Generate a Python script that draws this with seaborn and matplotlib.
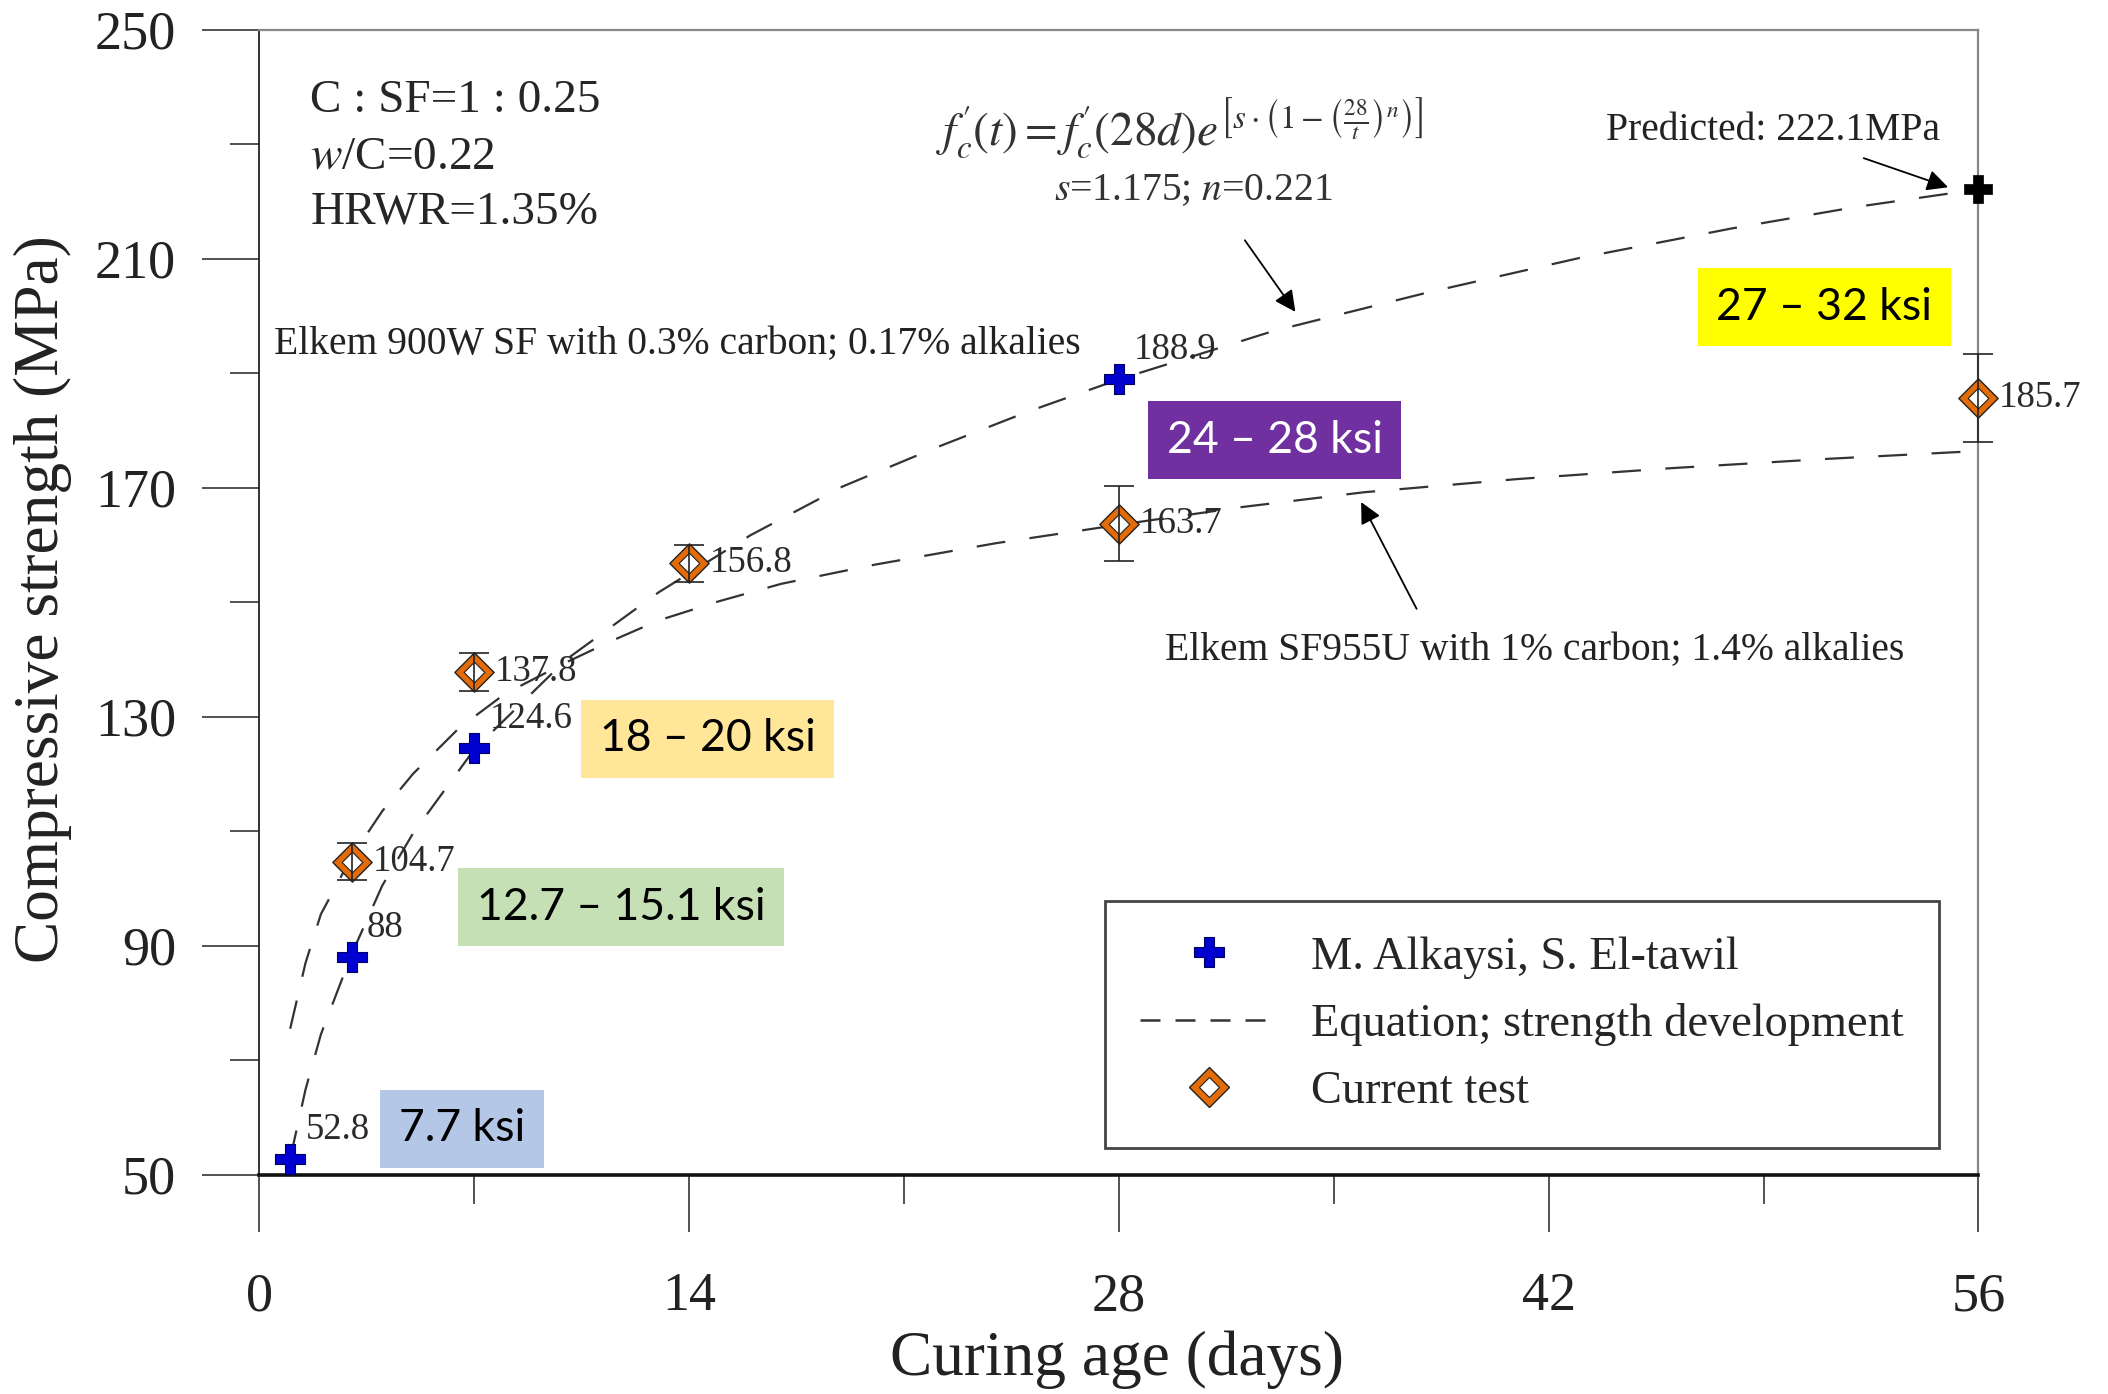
import numpy as np
import pandas as pd
import matplotlib
matplotlib.use("Agg")
import matplotlib.pyplot as plt
import seaborn as sns
from matplotlib.lines import Line2D

# measured strengths
alkaysi_days = [1, 3, 7, 28]
alkaysi_mpa = [52.8, 88, 124.6, 188.9]
predicted_days = [56]
predicted_mpa = [222.1]
test_days = [3, 7, 14, 28, 56]
test_mpa = [104.7, 137.8, 156.8, 163.7, 185.7]
test_err = [3.3, 3.3, 3.2, 6.5, 7.7]

# dashed strength-development curves
alkaysi_curve_days = [1, 1.5, 2, 3, 4, 5, 7, 10, 13, 16, 19, 22, 25, 28, 33, 38, 43, 48, 52, 56]
alkaysi_curve_mpa = [52.8, 64.9, 74.5, 88.5, 100.5, 109.6, 124.3, 140.0, 151.7, 161.7, 170.2,
                     176.9, 183.2, 188.9, 197.3, 204.0, 210.1, 215.3, 219.0, 222.1]
test_curve_days = [1, 1.5, 2, 3, 4, 5, 6.5, 8, 10, 11.5, 13, 15, 17, 20, 24, 28, 32, 36, 41, 46, 51, 56]
test_curve_mpa = [75.5, 87.0, 95.5, 105.5, 113.5, 120.0, 128.0, 134.0, 139.5, 143.3, 146.8, 150.2,
                  153.2, 156.5, 160.3, 163.5, 166.6, 169.2, 171.5, 173.4, 175.0, 176.4]

ksi_labels = ["7.7 ksi", "12.7 \u2013 15.1 ksi", "18 \u2013 20 ksi", "24 \u2013 28 ksi", "27 \u2013 32 ksi"]
ksi_colors = ["#B4C7E7", "#C5E0B4", "#FFE699", "#7030A0", "#FFFF00"]
ksi_text_colors = ["black", "black", "black", "white", "black"]

legend_labels = ["M. Alkaysi, S. El-tawil", "Equation; strength development", "Current test"]

BLUE = "#0000D0"
ORANGE = "#E36C09"
DASH = (0, (13, 11))

sns.set_style("ticks")
plt.rcParams["font.family"] = ["Liberation Serif", "DejaVu Serif"]
plt.rcParams["mathtext.fontset"] = "stix"

fig = plt.figure(figsize=(21.08, 13.94), dpi=100)
ax = fig.add_axes([0.1231, 0.1573, 0.8154, 0.8215])

# curves
sns.lineplot(x=alkaysi_curve_days, y=alkaysi_curve_mpa, ax=ax, color="#333333",
             lw=1.6, linestyle=DASH, zorder=2)
sns.lineplot(x=test_curve_days, y=test_curve_mpa, ax=ax, color="#333333",
             lw=1.6, linestyle=DASH, zorder=2)

# current test: orange diamond with white centre, error bars on top
sns.scatterplot(x=test_days, y=test_mpa, ax=ax, marker="D", s=20 ** 2, color=ORANGE,
                edgecolor="#222222", linewidth=1.0, zorder=4, clip_on=False)
sns.scatterplot(x=test_days, y=test_mpa, ax=ax, marker="D", s=10.5 ** 2, color="white",
                edgecolor="#222222", linewidth=0.8, zorder=5, clip_on=False)
ax.errorbar(test_days, test_mpa, yerr=test_err, fmt="none", ecolor="#222222",
            elinewidth=1.2, capsize=11, capthick=1.2, zorder=6, clip_on=False)

sns.scatterplot(x=alkaysi_days, y=alkaysi_mpa, ax=ax, marker="P", s=22 ** 2, color=BLUE,
                edgecolor="#000060", linewidth=0.8, zorder=5, clip_on=False)
sns.scatterplot(x=predicted_days, y=predicted_mpa, ax=ax, marker="P", s=20 ** 2, color="black",
                edgecolor="black", linewidth=0.5, zorder=5, clip_on=False)

# value labels
for d, v in zip(alkaysi_days, alkaysi_mpa):
    ax.annotate(f"{v:g}", (d, v), xytext=(11, 21), textcoords="offset points",
                ha="left", va="center", fontsize=26.5, color="#2a2a2a", zorder=7)
for d, v in zip(test_days, test_mpa):
    ax.annotate(f"{v:g}", (d, v), xytext=(15, 0), textcoords="offset points",
                ha="left", va="center", fontsize=26.5, color="#2a2a2a", zorder=7,
                annotation_clip=False)

# mix information
ax.text(1.66, 237.6, "C : SF=1 : 0.25", fontsize=34, va="center", ha="left")
ax.text(1.66, 227.7, r"$w$/C=0.22", fontsize=34, va="center", ha="left")
ax.text(1.66, 218.1, "HRWR=1.35%", fontsize=34, va="center", ha="left")

ax.text(22.05, 229.7,
        r"$f^{\prime}_{c}(t) = f^{\prime}_{c}(28d)e^{\left[s\cdot\left(1-\left(\frac{28}{t}\right)^{n}\right)\right]}$",
        fontsize=34, ha="left", va="baseline", color="#333333")
ax.text(30.43, 221.9, r"$s$=1.175; $n$=0.221", fontsize=28.5, ha="center", va="center",
        color="#333333")
ax.text(49.3, 232.4, "Predicted: 222.1MPa", fontsize=28.5, ha="center", va="center",
        color="#222222")
ax.text(0.48, 194.9, "Elkem 900W SF with 0.3% carbon; 0.17% alkalies", fontsize=28.5,
        ha="left", va="center", color="#222222")
ax.text(41.54, 141.6, "Elkem SF955U with 1% carbon; 1.4% alkalies", fontsize=28.5,
        ha="center", va="center", color="#222222")

arrow = dict(arrowstyle="-|>", color="black", lw=1.3, mutation_scale=32)
ax.annotate("", xy=(33.8, 200.3), xytext=(32.05, 213.6), arrowprops=arrow)
ax.annotate("", xy=(55.1, 222.3), xytext=(52.18, 227.7), arrowprops=arrow, annotation_clip=False)
ax.annotate("", xy=(35.85, 167.9), xytext=(37.74, 148.4), arrowprops=arrow)

# ksi range boxes
ksi_pos = [(6.6, 58.0), (11.78, 96.7), (14.6, 126.1), (33.07, 178.3), (50.98, 201.5)]
for (x, y), lab, fc, tc in zip(ksi_pos, ksi_labels, ksi_colors, ksi_text_colors):
    ax.text(x, y, lab, fontsize=32, family="Lato", color=tc, ha="center", va="center",
            zorder=8, bbox=dict(boxstyle="square,pad=0.42", fc=fc, ec="none"))

# legend
h_blue = Line2D([], [], ls="none", marker="P", ms=22, mfc=BLUE, mec="#000060", mew=0.8)
h_line = Line2D([], [], color="#333333", lw=1.8, ls=(0, (8, 6)))
h_test = (Line2D([], [], ls="none", marker="D", ms=20, mfc=ORANGE, mec="#222222", mew=1.0),
          Line2D([], [], ls="none", marker="D", ms=10.5, mfc="white", mec="#222222", mew=0.8))
leg = ax.legend([h_blue, h_line, h_test], legend_labels, loc="lower right",
                bbox_to_anchor=(0.977, 0.0233), borderaxespad=0, fontsize=33.4,
                frameon=True, fancybox=False, edgecolor="#444444", framealpha=1,
                borderpad=0.75, labelspacing=0.53, handlelength=3.0, handletextpad=0.7)
leg.get_frame().set_linewidth(2.0)

# axes
ax.set_xlim(0, 56)
ax.set_ylim(50, 250)
ax.set_xticks([0, 14, 28, 42, 56])
ax.set_xticks([7, 21, 35, 49], minor=True)
ax.set_yticks([50, 90, 130, 170, 210, 250])
ax.set_yticks([70, 110, 150, 190, 230], minor=True)
ax.tick_params(which="major", direction="out", length=41, width=1.3, color="#444444",
               labelsize=39, labelcolor="#222222")
ax.tick_params(which="minor", direction="out", length=21, width=1.3, color="#444444")
ax.tick_params(axis="x", which="major", pad=29)
ax.tick_params(axis="y", which="major", pad=19)

for side in ["top", "right"]:
    ax.spines[side].set_visible(True)
    ax.spines[side].set_color("#888888")
    ax.spines[side].set_linewidth(1.6)
ax.spines["left"].set_color("#222222")
ax.spines["left"].set_linewidth(1.3)
ax.spines["bottom"].set_color("#111111")
ax.spines["bottom"].set_linewidth(2.6)

ax.set_xlabel("Curing age (days)", fontsize=45.5, color="#222222", va="center")
ax.set_ylabel("Compressive strength (MPa)", fontsize=45.5, color="#222222", va="center")
ax.xaxis.set_label_coords(0.499, -0.162)
ax.yaxis.set_label_coords(-0.1259, 0.503)

fig.savefig("out.png", dpi=100)
